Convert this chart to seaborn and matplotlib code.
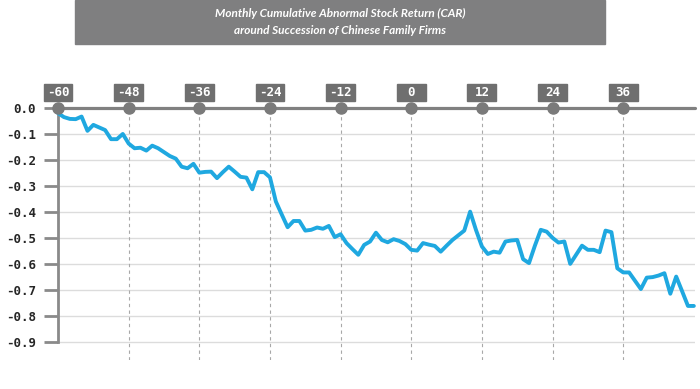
import numpy as np
import pandas as pd
import matplotlib
matplotlib.use("Agg")
import matplotlib.pyplot as plt
import matplotlib.transforms as mtransforms
import seaborn as sns
from matplotlib.patches import Rectangle

# 月次累積異常リターン（-60〜48ヶ月）
months = list(range(-60, 49))
car = [
    -0.020, -0.035, -0.042, -0.043, -0.033, -0.088, -0.065, -0.075, -0.085, -0.120,
    -0.120, -0.100, -0.137, -0.155, -0.153, -0.164, -0.145, -0.155, -0.170, -0.185,
    -0.195, -0.226, -0.232, -0.215, -0.249, -0.246, -0.245, -0.270, -0.247, -0.226,
    -0.245, -0.265, -0.268, -0.313, -0.247, -0.247, -0.267, -0.360, -0.410, -0.459,
    -0.435, -0.435, -0.472, -0.469, -0.460, -0.465, -0.454, -0.497, -0.486, -0.520,
    -0.543, -0.565, -0.527, -0.514, -0.480, -0.508, -0.517, -0.505, -0.512, -0.524,
    -0.546, -0.549, -0.520, -0.526, -0.531, -0.553, -0.530, -0.508, -0.490, -0.472,
    -0.399, -0.470, -0.533, -0.562, -0.553, -0.557, -0.514, -0.510, -0.508, -0.582,
    -0.597, -0.530, -0.469, -0.476, -0.500, -0.518, -0.514, -0.600, -0.565, -0.530,
    -0.546, -0.546, -0.555, -0.472, -0.478, -0.617, -0.633, -0.633, -0.665, -0.697,
    -0.653, -0.651, -0.645, -0.636, -0.715, -0.649, -0.705, -0.762, -0.762,
]
x_ticks = [-60, -48, -36, -24, -12, 0, 12, 24, 36]
y_ticks = [0.0, -0.1, -0.2, -0.3, -0.4, -0.5, -0.6, -0.7, -0.8, -0.9]
title_lines = ["Monthly Cumulative Abnormal Stock Return (CAR)",
               "around Succession of Chinese Family Firms"]

df = pd.DataFrame({"month": months, "car": car})

sns.set_style("white")
plt.rcParams["font.family"] = ["DejaVu Sans"]
plt.rcParams["axes.unicode_minus"] = False

fig = plt.figure(figsize=(7, 3.89), dpi=100)
ax = fig.add_axes([0.0829, 0.0746, 0.91, 0.6478])

# タイトルボックス
fig.patches.append(Rectangle((75 / 700, 1 - 44 / 389), 530 / 700, 44 / 389,
                             transform=fig.transFigure, color="#7f7f80", zorder=0))
title_font = ["Lato", "DejaVu Sans"]
fig.text(340 / 700, 1 - 13 / 389, title_lines[0], ha="center", va="center",
         color="white", fontsize=8.5, fontweight="bold", style="italic",
         family=title_font)
fig.text(340 / 700, 1 - 30 / 389, title_lines[1], ha="center", va="center",
         color="white", fontsize=8.5, fontweight="bold", style="italic",
         family=title_font)

# グリッド
for v in y_ticks[1:]:
    ax.axhline(v, color="#dcdcdc", lw=1, zorder=1)
for m in x_ticks[1:]:
    ax.axvline(m, color="#a8a8a8", lw=0.8, ls=(0, (3, 3)), zorder=1)

sns.lineplot(data=df, x="month", y="car", ax=ax, color="#1fa8e0", lw=2.8,
             zorder=3, clip_on=False)

# 上部の軸線と丸印
ax.axhline(0, color="#808080", lw=2.3, zorder=4, clip_on=False)
ax.plot(x_ticks, [0] * len(x_ticks), "o", color="#7a7a7a", ms=8,
        zorder=5, clip_on=False)

ax.set_xlim(-60, 48.2)
ax.set_ylim(-0.97, 0)

for s in ["top", "right", "bottom"]:
    ax.spines[s].set_visible(False)
ax.spines["left"].set_bounds(-0.9, 0)
ax.spines["left"].set_color("#8a8a8a")
ax.spines["left"].set_linewidth(2)

ax.set_yticks(y_ticks)
ax.set_yticklabels([f"{v:.1f}" for v in y_ticks], family="DejaVu Sans Mono",
                   fontweight="bold", fontsize=9)
ax.tick_params(axis="y", length=10, width=2, color="#8a8a8a", pad=6, left=True)

# 上側の目盛りラベル（灰色ボックス）
ax.set_xticks([])
trans = mtransforms.blended_transform_factory(ax.transData, fig.transFigure)
box_w = 4.9
for m in x_ticks:
    ax.add_patch(Rectangle((m - box_w / 2, 1 - 101 / 389), box_w, 17 / 389,
                           transform=trans, color="#6f6f6f", clip_on=False, zorder=6))
    ax.text(m, 1 - 92.5 / 389, str(m), transform=trans, ha="center", va="center",
            color="white", fontsize=9, fontweight="bold",
            family="DejaVu Sans Mono", zorder=7, clip_on=False)

ax.set_xlabel("")
ax.set_ylabel("")

fig.savefig("out.png", dpi=100)
